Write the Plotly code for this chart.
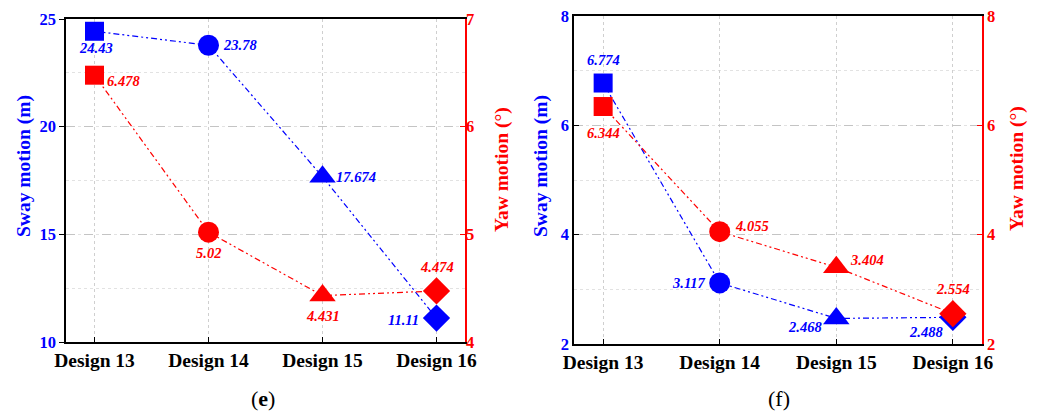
import plotly.graph_objects as go

# ---------------- data ----------------
categories = ["Design 13", "Design 14", "Design 15", "Design 16"]
sway_e = [24.43, 23.78, 17.674, 11.11]
yaw_e = [6.478, 5.02, 4.431, 4.474]
sway_f = [6.774, 3.117, 2.468, 2.488]
yaw_f = [6.344, 4.055, 3.404, 2.554]
left_ticks_e = [10, 15, 20, 25]
right_ticks_e = [4, 5, 6, 7]
ticks_f = [2, 4, 6, 8]
panel_labels = ["(<b>e</b>)", "(f)"]

# ---------------- styling ----------------
BLUE = "#0000FF"
RED = "#FF0000"
SERIF = "Liberation Serif"
symbols = ["square", "circle", "triangle-up", "diamond"]
msizes = [19, 21, 23, 21]
dash = "6px,3px,2px,3px,2px,3px"

# label offsets (xshift, yshift) in px
off_sway_e = [(1, -17), (31, 0), (33, 0), (-33, -2)]
off_yaw_e = [(29, -6), (0, -21), (0, -20), (0, 24)]
off_sway_f = [(0, 23), (-31, 0), (-31, -9), (-27, -15)]
off_yaw_f = [(0, -26), (32, 6), (31, 7), (0, 25)]

fig = go.Figure()

def add_series(vals, color, xa, ya):
    fig.add_trace(go.Scatter(
        x=categories, y=vals, xaxis=xa, yaxis=ya, mode="lines+markers",
        line=dict(color=color, width=1.2, dash=dash), opacity=1,
        marker=dict(symbol=symbols, size=msizes, color=color, opacity=1, line=dict(width=0)),
        showlegend=False, hoverinfo="skip", cliponaxis=False))

add_series(sway_e, BLUE, "x", "y")
add_series(yaw_e, RED, "x", "y2")
add_series(sway_f, BLUE, "x2", "y3")
add_series(yaw_f, RED, "x2", "y4")

annotations = []
def add_labels(vals, offs, color, xr, yr):
    for c, v, (dx, dy) in zip(categories, vals, offs):
        annotations.append(dict(
            x=c, y=v, xref=xr, yref=yr, text=str(v), showarrow=False,
            xanchor="center", yanchor="middle", xshift=dx, yshift=dy,
            font=dict(family=SERIF, size=14.5, color=color, style="italic", weight="bold")))

add_labels(sway_e, off_sway_e, BLUE, "x", "y")
add_labels(yaw_e, off_yaw_e, RED, "x", "y2")
add_labels(sway_f, off_sway_f, BLUE, "x2", "y3")
add_labels(yaw_f, off_yaw_f, RED, "x2", "y4")

# page body has an 8px margin: the figure is drawn 8px in from the window edge
PAGE_MARGIN = 8
W, H = 1048 - PAGE_MARGIN, 416 - PAGE_MARGIN
def px_x(p):
    return (p - PAGE_MARGIN) / W
def px_y(p):
    return 1 - (p - PAGE_MARGIN) / H

title_font_b = dict(family=SERIF, size=19.5, color=BLUE, weight="bold")
title_font_r = dict(family=SERIF, size=19.5, color=RED, weight="bold")
def paper_text(x, y, text, font, angle=0):
    return dict(x=px_x(x), y=px_y(y), xref="paper", yref="paper", text=text,
                textangle=angle, showarrow=False, xanchor="center", yanchor="middle", font=font)

annotations += [
    paper_text(24, 166, "Sway motion (m)", title_font_b, -90),
    paper_text(502, 170, "Yaw motion (°)", title_font_r, -90),
    paper_text(541, 166, "Sway motion (m)", title_font_b, -90),
    paper_text(1017, 169, "Yaw motion (°)", title_font_r, -90),
    paper_text(263, 398, panel_labels[0], dict(family=SERIF, size=22, color="black")),
    paper_text(779, 398, panel_labels[1], dict(family=SERIF, size=22, color="black")),
]

xcommon = dict(
    type="category", showline=True, linecolor="black", linewidth=1.5, mirror=True,
    ticks="inside", ticklen=5, tickcolor="black", automargin=False,
    ticklabeloverflow="allow",
    showgrid=True, griddash="dot", gridcolor="#cfcfcf", gridwidth=1,
    tickfont=dict(family=SERIF, size=19.5, color="black", weight="bold"),
    zeroline=False, fixedrange=True)

def yleft(rng, tv, minor_dt, ticks):
    return dict(
        range=rng, tickvals=tv, showline=True, linecolor="black", linewidth=1.5,
        ticks=ticks, ticklen=5, tickcolor="black", automargin=False,
        ticklabeloverflow="allow",
        showgrid=True, griddash="dash", gridcolor="#c4c4c4", gridwidth=1,
        minor=dict(dtick=minor_dt, showgrid=True, griddash="dot", gridcolor="#e2e2e2", ticks=""),
        tickfont=dict(family=SERIF, size=16.5, color=BLUE, weight="bold"),
        zeroline=False, fixedrange=True)

def yright(rng, tv, overlay, anchor, standoff):
    return dict(
        range=rng, tickvals=tv, overlaying=overlay, side="right", anchor=anchor,
        showline=True, linecolor=RED, linewidth=1.5, automargin=False,
        ticklabeloverflow="allow",
        ticks="inside", ticklen=5, tickcolor=RED, showgrid=False,
        ticklabelstandoff=standoff,
        tickfont=dict(family=SERIF, size=16.5, color=RED, weight="bold"),
        zeroline=False, fixedrange=True)

fig.update_layout(
    width=W, height=H, margin=dict(l=0, r=0, t=0, b=0, autoexpand=False),
    paper_bgcolor="white", plot_bgcolor="white",
    xaxis=dict(xcommon, domain=[px_x(66), px_x(465)], range=[-0.25, 3.25], anchor="y"),
    yaxis=dict(yleft([10, 25], left_ticks_e, 2.5, "outside"), domain=[px_y(342), px_y(19)], anchor="x"),
    yaxis2=yright([4, 7], right_ticks_e, "y", "x", -4),
    xaxis2=dict(xcommon, domain=[px_x(574), px_x(982)], range=[-0.25, 3.25], anchor="y3"),
    yaxis3=dict(yleft([2, 8], ticks_f, 1, "inside"), domain=[px_y(344), px_y(16)], anchor="x2"),
    yaxis4=yright([2, 8], ticks_f, "y3", "x2", 0),
    annotations=annotations,
)

fig.write_html("out.html")
